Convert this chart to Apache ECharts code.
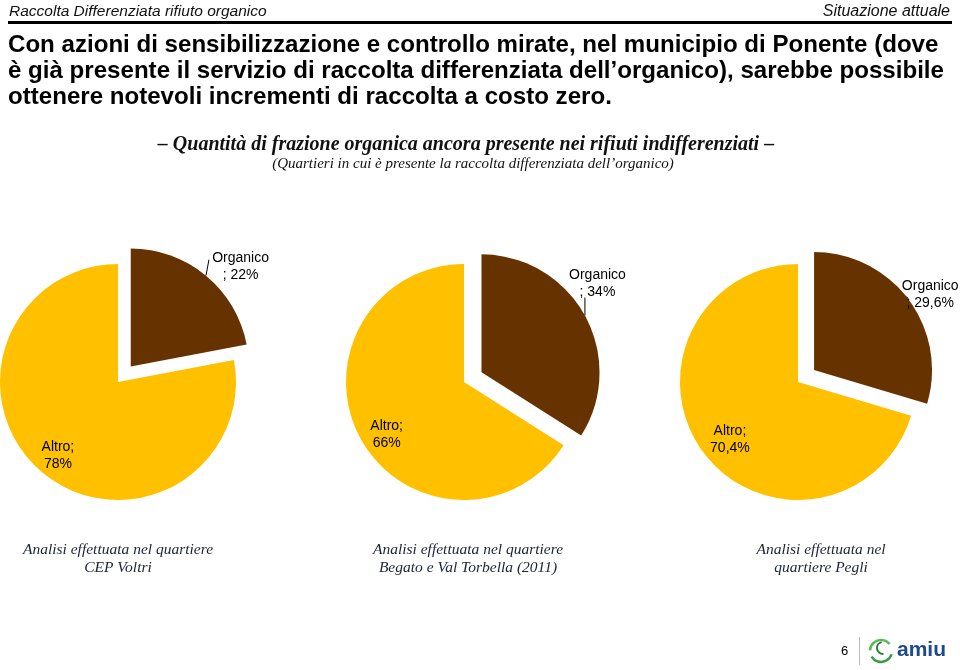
<!DOCTYPE html>
<html>
<head>
<meta charset="utf-8">
<script src="https://cdn.jsdelivr.net/npm/echarts@6/dist/echarts.min.js"></script>
<style>
html,body{margin:0;padding:0;background:#fff;}
#chart{width:960px;height:670px;}
</style>
</head>
<body>
<div id="chart"></div>
<script>
// ---- data ----
const categories = ['Organico', 'Altro'];
const districts = ['CEP Voltri', 'Begato e Val Torbella (2011)', 'Pegli'];
const organico = [22, 34, 29.6];
const altro = [78, 66, 70.4];
const captions = [
  'Analisi effettuata nel quartiere\nCEP Voltri',
  'Analisi effettuata nel quartiere\nBegato e Val Torbella (2011)',
  'Analisi effettuata nel\nquartiere Pegli'
];
const headerLeft = 'Raccolta Differenziata rifiuto organico';
const headerRight = 'Situazione attuale';
const bodyText = 'Con azioni di sensibilizzazione e controllo mirate, nel municipio di Ponente (dove\nè già presente il servizio di raccolta differenziata dell\u2019organico), sarebbe possibile\nottenere notevoli incrementi di raccolta a costo zero.';
const chartTitle = '\u2013 Quantità di frazione organica ancora presente nei rifiuti indifferenziati \u2013';
const chartSubtitle = '(Quartieri in cui è presente la raccolta differenziata dell\u2019organico)';

// ---- layout / style ----
const COLORS = ['#663300', '#FFC000'];
const centers = [[118, 382], [464, 382], [798, 382]];
const captionX = [118, 468, 821];
const R = 118;
const organicoLabelShift = [[-8, 0], [-33, -26], [-23, 2]];
const leaderVec = [[3, -16], [0, -18], [-2, -3]];
const altroShift = [[2, -1], [8, 6], [10, -1]];
const SANS = 'Liberation Sans, Arial, sans-serif';
const SERIF = 'Liberation Serif, Times New Roman, serif';

function fmt(v) { return String(v).replace('.', ','); }

const chart = echarts.init(document.getElementById('chart'), null, {renderer: 'canvas'});

const series = centers.map(function (c, i) {
  const total = organico[i] + altro[i];
  const vals = [organico[i], altro[i]];
  let acc = 0;
  const mids = vals.map(function (v) { const m = acc + v / total * 180; acc += v / total * 360; return m; });
  return {
    type: 'pie',
    name: districts[i],
    center: c,
    radius: R,
    startAngle: 90,
    clockwise: true,
    selectedMode: 'multiple',
    selectedOffset: 20,
    silent: true,
    animation: false,
    avoidLabelOverlap: false,
    label: {color: '#000', fontFamily: SANS, fontSize: 14, lineHeight: 17},
    labelLine: {length: 12, length2: 0, lineStyle: {color: '#000', width: 1}},
    labelLayout: function (p) {
      if (p.dataIndex === 1) {
        const a = mids[1] * Math.PI / 180;
        return {dx: 0.3 * R * Math.sin(a) + altroShift[i][0], dy: -0.3 * R * Math.cos(a) + altroShift[i][1]};
      }
      const out = {dx: organicoLabelShift[i][0], dy: organicoLabelShift[i][1]};
      if (p.labelLinePoints && p.labelLinePoints.length) {
        const a0 = p.labelLinePoints[0];
        out.labelLinePoints = [[a0[0], a0[1]], [a0[0] + leaderVec[i][0], a0[1] + leaderVec[i][1]]];
      }
      return out;
    },
    data: [
      {
        name: categories[0], value: organico[i], selected: true,
        itemStyle: {color: COLORS[0]},
        label: {
          show: true, position: 'outside',
          formatter: function (p) { return '{a|' + p.name + '}\n{a|; ' + fmt(p.value) + '%}'; },
          rich: {a: {width: 60, align: 'center', fontSize: 14, lineHeight: 17, color: '#000', fontFamily: SANS}}
        },
        labelLine: {show: true}
      },
      {
        name: categories[1], value: altro[i],
        itemStyle: {color: COLORS[1]},
        label: {
          show: true, position: 'inside', align: 'center',
          formatter: function (p) { return p.name + ';\n' + fmt(p.value) + '%'; }
        },
        labelLine: {show: false}
      }
    ]
  };
});

const titles = [
  {text: headerLeft, left: 9, top: 4, padding: 0, textStyle: {fontFamily: SANS, fontStyle: 'italic', fontWeight: 'normal', fontSize: 15.5, color: '#111'}},
  {text: headerRight, right: 10, top: 4, padding: 0, textStyle: {fontFamily: SANS, fontStyle: 'italic', fontWeight: 'normal', fontSize: 16, color: '#111'}},
  {text: bodyText, left: 8, top: 32, padding: 0, textStyle: {fontFamily: SANS, fontWeight: 'bold', fontSize: 24.1, lineHeight: 26, color: '#000'}},
  {text: chartTitle, left: 466, top: 135, padding: 0, textAlign: 'center', textStyle: {fontFamily: SERIF, fontStyle: 'italic', fontWeight: 'bold', fontSize: 20, color: '#111'}},
  {text: chartSubtitle, left: 473, top: 157, padding: 0, textAlign: 'center', textStyle: {fontFamily: SERIF, fontStyle: 'italic', fontWeight: 'normal', fontSize: 15, color: '#111'}}
];
captions.forEach(function (t, i) {
  titles.push({text: t, left: captionX[i], top: 541, padding: 0, textAlign: 'center',
    textStyle: {fontFamily: SERIF, fontStyle: 'italic', fontWeight: 'normal', fontSize: 15.5, lineHeight: 18, color: '#1c2333'}});
});

chart.setOption({
  backgroundColor: '#fff',
  animation: false,
  title: titles,
  graphic: [
    {type: 'rect', shape: {x: 8, y: 21, width: 944, height: 3}, style: {fill: '#000'}, silent: true},
    {type: 'text', left: 841, top: 645, style: {text: '6', fontSize: 13, fontFamily: SANS, fill: '#000'}},
    {type: 'rect', shape: {x: 859, y: 637, width: 1, height: 28}, style: {fill: '#bbb'}},
    {type: 'arc', shape: {cx: 881, cy: 651, r: 11, startAngle: 0.3, endAngle: 2.6}, style: {stroke: '#3a9a4a', lineWidth: 2.5, fill: null}},
    {type: 'arc', shape: {cx: 881, cy: 651, r: 11, startAngle: 3.2, endAngle: 5.6}, style: {stroke: '#5cb85c', lineWidth: 2.5, fill: null}},
    {type: 'arc', shape: {cx: 883, cy: 648, r: 6, startAngle: 1.5, endAngle: 4.5}, style: {stroke: '#2f7d3a', lineWidth: 2, fill: null}},
    {type: 'text', left: 897, top: 640, style: {text: 'amiu', fontSize: 21, fontWeight: 'bold', fontFamily: SANS, fill: '#1d4a8a'}}
  ],
  series: series
});
</script>
</body>
</html>
